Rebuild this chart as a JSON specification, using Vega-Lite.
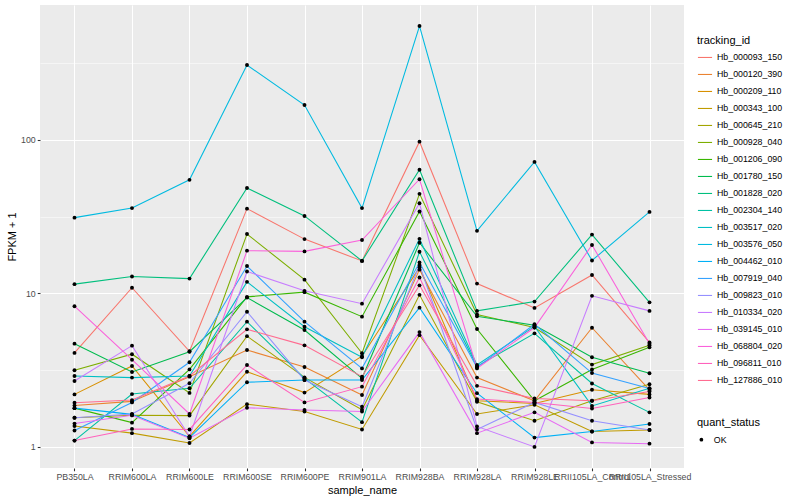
{
  "$schema": "https://vega.github.io/schema/vega-lite/v6.json",
  "autosize": {"type": "none"},
  "padding": {"left": 40, "top": 5, "right": 116, "bottom": 32},
  "width": 644,
  "height": 463,
  "background": "white",
  "datasets": {
    "expr": [
      {"tracking_id":"Hb_000093_150","sample_name":"PB350LA","fpkm":4.1,"quant_status":"OK"},
      {"tracking_id":"Hb_000093_150","sample_name":"RRIM600LA","fpkm":10.9,"quant_status":"OK"},
      {"tracking_id":"Hb_000093_150","sample_name":"RRIM600LE","fpkm":4.2,"quant_status":"OK"},
      {"tracking_id":"Hb_000093_150","sample_name":"RRIM600SE","fpkm":35.7,"quant_status":"OK"},
      {"tracking_id":"Hb_000093_150","sample_name":"RRIM600PE","fpkm":22.6,"quant_status":"OK"},
      {"tracking_id":"Hb_000093_150","sample_name":"RRIM901LA","fpkm":16.3,"quant_status":"OK"},
      {"tracking_id":"Hb_000093_150","sample_name":"RRIM928BA","fpkm":97.5,"quant_status":"OK"},
      {"tracking_id":"Hb_000093_150","sample_name":"RRIM928LA","fpkm":11.6,"quant_status":"OK"},
      {"tracking_id":"Hb_000093_150","sample_name":"RRIM928LE","fpkm":8.05,"quant_status":"OK"},
      {"tracking_id":"Hb_000093_150","sample_name":"RRII105LA_Control","fpkm":13.2,"quant_status":"OK"},
      {"tracking_id":"Hb_000093_150","sample_name":"RRII105LA_Stressed","fpkm":4.8,"quant_status":"OK"},
      {"tracking_id":"Hb_000120_390","sample_name":"PB350LA","fpkm":1.86,"quant_status":"OK"},
      {"tracking_id":"Hb_000120_390","sample_name":"RRIM600LA","fpkm":1.98,"quant_status":"OK"},
      {"tracking_id":"Hb_000120_390","sample_name":"RRIM600LE","fpkm":2.87,"quant_status":"OK"},
      {"tracking_id":"Hb_000120_390","sample_name":"RRIM600SE","fpkm":4.28,"quant_status":"OK"},
      {"tracking_id":"Hb_000120_390","sample_name":"RRIM600PE","fpkm":3.32,"quant_status":"OK"},
      {"tracking_id":"Hb_000120_390","sample_name":"RRIM901LA","fpkm":2.18,"quant_status":"OK"},
      {"tracking_id":"Hb_000120_390","sample_name":"RRIM928BA","fpkm":14.3,"quant_status":"OK"},
      {"tracking_id":"Hb_000120_390","sample_name":"RRIM928LA","fpkm":2.83,"quant_status":"OK"},
      {"tracking_id":"Hb_000120_390","sample_name":"RRIM928LE","fpkm":2.0,"quant_status":"OK"},
      {"tracking_id":"Hb_000120_390","sample_name":"RRII105LA_Control","fpkm":5.98,"quant_status":"OK"},
      {"tracking_id":"Hb_000120_390","sample_name":"RRII105LA_Stressed","fpkm":2.35,"quant_status":"OK"},
      {"tracking_id":"Hb_000209_110","sample_name":"PB350LA","fpkm":2.2,"quant_status":"OK"},
      {"tracking_id":"Hb_000209_110","sample_name":"RRIM600LA","fpkm":3.37,"quant_status":"OK"},
      {"tracking_id":"Hb_000209_110","sample_name":"RRIM600LE","fpkm":1.17,"quant_status":"OK"},
      {"tracking_id":"Hb_000209_110","sample_name":"RRIM600SE","fpkm":3.09,"quant_status":"OK"},
      {"tracking_id":"Hb_000209_110","sample_name":"RRIM600PE","fpkm":2.26,"quant_status":"OK"},
      {"tracking_id":"Hb_000209_110","sample_name":"RRIM901LA","fpkm":3.9,"quant_status":"OK"},
      {"tracking_id":"Hb_000209_110","sample_name":"RRIM928BA","fpkm":14.8,"quant_status":"OK"},
      {"tracking_id":"Hb_000209_110","sample_name":"RRIM928LA","fpkm":2.0,"quant_status":"OK"},
      {"tracking_id":"Hb_000209_110","sample_name":"RRIM928LE","fpkm":1.92,"quant_status":"OK"},
      {"tracking_id":"Hb_000209_110","sample_name":"RRII105LA_Control","fpkm":2.36,"quant_status":"OK"},
      {"tracking_id":"Hb_000209_110","sample_name":"RRII105LA_Stressed","fpkm":2.2,"quant_status":"OK"},
      {"tracking_id":"Hb_000343_100","sample_name":"PB350LA","fpkm":1.37,"quant_status":"OK"},
      {"tracking_id":"Hb_000343_100","sample_name":"RRIM600LA","fpkm":1.23,"quant_status":"OK"},
      {"tracking_id":"Hb_000343_100","sample_name":"RRIM600LE","fpkm":1.06,"quant_status":"OK"},
      {"tracking_id":"Hb_000343_100","sample_name":"RRIM600SE","fpkm":1.9,"quant_status":"OK"},
      {"tracking_id":"Hb_000343_100","sample_name":"RRIM600PE","fpkm":1.7,"quant_status":"OK"},
      {"tracking_id":"Hb_000343_100","sample_name":"RRIM901LA","fpkm":1.3,"quant_status":"OK"},
      {"tracking_id":"Hb_000343_100","sample_name":"RRIM928BA","fpkm":5.35,"quant_status":"OK"},
      {"tracking_id":"Hb_000343_100","sample_name":"RRIM928LA","fpkm":1.64,"quant_status":"OK"},
      {"tracking_id":"Hb_000343_100","sample_name":"RRIM928LE","fpkm":1.88,"quant_status":"OK"},
      {"tracking_id":"Hb_000343_100","sample_name":"RRII105LA_Control","fpkm":1.26,"quant_status":"OK"},
      {"tracking_id":"Hb_000343_100","sample_name":"RRII105LA_Stressed","fpkm":1.29,"quant_status":"OK"},
      {"tracking_id":"Hb_000645_210","sample_name":"PB350LA","fpkm":1.55,"quant_status":"OK"},
      {"tracking_id":"Hb_000645_210","sample_name":"RRIM600LA","fpkm":1.61,"quant_status":"OK"},
      {"tracking_id":"Hb_000645_210","sample_name":"RRIM600LE","fpkm":1.6,"quant_status":"OK"},
      {"tracking_id":"Hb_000645_210","sample_name":"RRIM600SE","fpkm":5.27,"quant_status":"OK"},
      {"tracking_id":"Hb_000645_210","sample_name":"RRIM600PE","fpkm":2.84,"quant_status":"OK"},
      {"tracking_id":"Hb_000645_210","sample_name":"RRIM901LA","fpkm":1.75,"quant_status":"OK"},
      {"tracking_id":"Hb_000645_210","sample_name":"RRIM928BA","fpkm":9.8,"quant_status":"OK"},
      {"tracking_id":"Hb_000645_210","sample_name":"RRIM928LA","fpkm":1.97,"quant_status":"OK"},
      {"tracking_id":"Hb_000645_210","sample_name":"RRIM928LE","fpkm":1.48,"quant_status":"OK"},
      {"tracking_id":"Hb_000645_210","sample_name":"RRII105LA_Control","fpkm":2.0,"quant_status":"OK"},
      {"tracking_id":"Hb_000645_210","sample_name":"RRII105LA_Stressed","fpkm":2.56,"quant_status":"OK"},
      {"tracking_id":"Hb_000928_040","sample_name":"PB350LA","fpkm":3.16,"quant_status":"OK"},
      {"tracking_id":"Hb_000928_040","sample_name":"RRIM600LA","fpkm":4.02,"quant_status":"OK"},
      {"tracking_id":"Hb_000928_040","sample_name":"RRIM600LE","fpkm":2.25,"quant_status":"OK"},
      {"tracking_id":"Hb_000928_040","sample_name":"RRIM600SE","fpkm":24.4,"quant_status":"OK"},
      {"tracking_id":"Hb_000928_040","sample_name":"RRIM600PE","fpkm":12.3,"quant_status":"OK"},
      {"tracking_id":"Hb_000928_040","sample_name":"RRIM901LA","fpkm":4.08,"quant_status":"OK"},
      {"tracking_id":"Hb_000928_040","sample_name":"RRIM928BA","fpkm":44.6,"quant_status":"OK"},
      {"tracking_id":"Hb_000928_040","sample_name":"RRIM928LA","fpkm":7.3,"quant_status":"OK"},
      {"tracking_id":"Hb_000928_040","sample_name":"RRIM928LE","fpkm":6.0,"quant_status":"OK"},
      {"tracking_id":"Hb_000928_040","sample_name":"RRII105LA_Control","fpkm":3.44,"quant_status":"OK"},
      {"tracking_id":"Hb_000928_040","sample_name":"RRII105LA_Stressed","fpkm":4.6,"quant_status":"OK"},
      {"tracking_id":"Hb_001206_090","sample_name":"PB350LA","fpkm":1.79,"quant_status":"OK"},
      {"tracking_id":"Hb_001206_090","sample_name":"RRIM600LA","fpkm":1.44,"quant_status":"OK"},
      {"tracking_id":"Hb_001206_090","sample_name":"RRIM600LE","fpkm":3.2,"quant_status":"OK"},
      {"tracking_id":"Hb_001206_090","sample_name":"RRIM600SE","fpkm":9.5,"quant_status":"OK"},
      {"tracking_id":"Hb_001206_090","sample_name":"RRIM600PE","fpkm":10.2,"quant_status":"OK"},
      {"tracking_id":"Hb_001206_090","sample_name":"RRIM901LA","fpkm":7.06,"quant_status":"OK"},
      {"tracking_id":"Hb_001206_090","sample_name":"RRIM928BA","fpkm":34.2,"quant_status":"OK"},
      {"tracking_id":"Hb_001206_090","sample_name":"RRIM928LA","fpkm":5.87,"quant_status":"OK"},
      {"tracking_id":"Hb_001206_090","sample_name":"RRIM928LE","fpkm":2.0,"quant_status":"OK"},
      {"tracking_id":"Hb_001206_090","sample_name":"RRII105LA_Control","fpkm":3.2,"quant_status":"OK"},
      {"tracking_id":"Hb_001206_090","sample_name":"RRII105LA_Stressed","fpkm":4.46,"quant_status":"OK"},
      {"tracking_id":"Hb_001780_150","sample_name":"PB350LA","fpkm":4.71,"quant_status":"OK"},
      {"tracking_id":"Hb_001780_150","sample_name":"RRIM600LA","fpkm":3.08,"quant_status":"OK"},
      {"tracking_id":"Hb_001780_150","sample_name":"RRIM600LE","fpkm":4.17,"quant_status":"OK"},
      {"tracking_id":"Hb_001780_150","sample_name":"RRIM600SE","fpkm":9.4,"quant_status":"OK"},
      {"tracking_id":"Hb_001780_150","sample_name":"RRIM600PE","fpkm":5.78,"quant_status":"OK"},
      {"tracking_id":"Hb_001780_150","sample_name":"RRIM901LA","fpkm":2.8,"quant_status":"OK"},
      {"tracking_id":"Hb_001780_150","sample_name":"RRIM928BA","fpkm":21.4,"quant_status":"OK"},
      {"tracking_id":"Hb_001780_150","sample_name":"RRIM928LA","fpkm":7.1,"quant_status":"OK"},
      {"tracking_id":"Hb_001780_150","sample_name":"RRIM928LE","fpkm":6.2,"quant_status":"OK"},
      {"tracking_id":"Hb_001780_150","sample_name":"RRII105LA_Control","fpkm":3.84,"quant_status":"OK"},
      {"tracking_id":"Hb_001780_150","sample_name":"RRII105LA_Stressed","fpkm":3.02,"quant_status":"OK"},
      {"tracking_id":"Hb_001828_020","sample_name":"PB350LA","fpkm":11.5,"quant_status":"OK"},
      {"tracking_id":"Hb_001828_020","sample_name":"RRIM600LA","fpkm":12.9,"quant_status":"OK"},
      {"tracking_id":"Hb_001828_020","sample_name":"RRIM600LE","fpkm":12.5,"quant_status":"OK"},
      {"tracking_id":"Hb_001828_020","sample_name":"RRIM600SE","fpkm":48.7,"quant_status":"OK"},
      {"tracking_id":"Hb_001828_020","sample_name":"RRIM600PE","fpkm":32,"quant_status":"OK"},
      {"tracking_id":"Hb_001828_020","sample_name":"RRIM901LA","fpkm":16.3,"quant_status":"OK"},
      {"tracking_id":"Hb_001828_020","sample_name":"RRIM928BA","fpkm":64,"quant_status":"OK"},
      {"tracking_id":"Hb_001828_020","sample_name":"RRIM928LA","fpkm":7.7,"quant_status":"OK"},
      {"tracking_id":"Hb_001828_020","sample_name":"RRIM928LE","fpkm":8.85,"quant_status":"OK"},
      {"tracking_id":"Hb_001828_020","sample_name":"RRII105LA_Control","fpkm":24.2,"quant_status":"OK"},
      {"tracking_id":"Hb_001828_020","sample_name":"RRII105LA_Stressed","fpkm":8.75,"quant_status":"OK"},
      {"tracking_id":"Hb_002304_140","sample_name":"PB350LA","fpkm":1.1,"quant_status":"OK"},
      {"tracking_id":"Hb_002304_140","sample_name":"RRIM600LA","fpkm":2.21,"quant_status":"OK"},
      {"tracking_id":"Hb_002304_140","sample_name":"RRIM600LE","fpkm":2.41,"quant_status":"OK"},
      {"tracking_id":"Hb_002304_140","sample_name":"RRIM600SE","fpkm":6.55,"quant_status":"OK"},
      {"tracking_id":"Hb_002304_140","sample_name":"RRIM600PE","fpkm":2.8,"quant_status":"OK"},
      {"tracking_id":"Hb_002304_140","sample_name":"RRIM901LA","fpkm":1.45,"quant_status":"OK"},
      {"tracking_id":"Hb_002304_140","sample_name":"RRIM928BA","fpkm":18.7,"quant_status":"OK"},
      {"tracking_id":"Hb_002304_140","sample_name":"RRIM928LA","fpkm":3.35,"quant_status":"OK"},
      {"tracking_id":"Hb_002304_140","sample_name":"RRIM928LE","fpkm":5.5,"quant_status":"OK"},
      {"tracking_id":"Hb_002304_140","sample_name":"RRII105LA_Control","fpkm":2.59,"quant_status":"OK"},
      {"tracking_id":"Hb_002304_140","sample_name":"RRII105LA_Stressed","fpkm":1.68,"quant_status":"OK"},
      {"tracking_id":"Hb_003517_020","sample_name":"PB350LA","fpkm":2.9,"quant_status":"OK"},
      {"tracking_id":"Hb_003517_020","sample_name":"RRIM600LA","fpkm":2.83,"quant_status":"OK"},
      {"tracking_id":"Hb_003517_020","sample_name":"RRIM600LE","fpkm":2.9,"quant_status":"OK"},
      {"tracking_id":"Hb_003517_020","sample_name":"RRIM600SE","fpkm":11.9,"quant_status":"OK"},
      {"tracking_id":"Hb_003517_020","sample_name":"RRIM600PE","fpkm":6.07,"quant_status":"OK"},
      {"tracking_id":"Hb_003517_020","sample_name":"RRIM901LA","fpkm":3.84,"quant_status":"OK"},
      {"tracking_id":"Hb_003517_020","sample_name":"RRIM928BA","fpkm":22.7,"quant_status":"OK"},
      {"tracking_id":"Hb_003517_020","sample_name":"RRIM928LA","fpkm":3.42,"quant_status":"OK"},
      {"tracking_id":"Hb_003517_020","sample_name":"RRIM928LE","fpkm":6.1,"quant_status":"OK"},
      {"tracking_id":"Hb_003517_020","sample_name":"RRII105LA_Control","fpkm":1.85,"quant_status":"OK"},
      {"tracking_id":"Hb_003517_020","sample_name":"RRII105LA_Stressed","fpkm":2.41,"quant_status":"OK"},
      {"tracking_id":"Hb_003576_050","sample_name":"PB350LA","fpkm":31.2,"quant_status":"OK"},
      {"tracking_id":"Hb_003576_050","sample_name":"RRIM600LA","fpkm":36,"quant_status":"OK"},
      {"tracking_id":"Hb_003576_050","sample_name":"RRIM600LE","fpkm":55,"quant_status":"OK"},
      {"tracking_id":"Hb_003576_050","sample_name":"RRIM600SE","fpkm":308,"quant_status":"OK"},
      {"tracking_id":"Hb_003576_050","sample_name":"RRIM600PE","fpkm":169,"quant_status":"OK"},
      {"tracking_id":"Hb_003576_050","sample_name":"RRIM901LA","fpkm":36,"quant_status":"OK"},
      {"tracking_id":"Hb_003576_050","sample_name":"RRIM928BA","fpkm":553,"quant_status":"OK"},
      {"tracking_id":"Hb_003576_050","sample_name":"RRIM928LA","fpkm":25.6,"quant_status":"OK"},
      {"tracking_id":"Hb_003576_050","sample_name":"RRIM928LE","fpkm":72,"quant_status":"OK"},
      {"tracking_id":"Hb_003576_050","sample_name":"RRII105LA_Control","fpkm":16.4,"quant_status":"OK"},
      {"tracking_id":"Hb_003576_050","sample_name":"RRII105LA_Stressed","fpkm":34,"quant_status":"OK"},
      {"tracking_id":"Hb_004462_010","sample_name":"PB350LA","fpkm":1.79,"quant_status":"OK"},
      {"tracking_id":"Hb_004462_010","sample_name":"RRIM600LA","fpkm":1.63,"quant_status":"OK"},
      {"tracking_id":"Hb_004462_010","sample_name":"RRIM600LE","fpkm":1.15,"quant_status":"OK"},
      {"tracking_id":"Hb_004462_010","sample_name":"RRIM600SE","fpkm":2.64,"quant_status":"OK"},
      {"tracking_id":"Hb_004462_010","sample_name":"RRIM600PE","fpkm":2.73,"quant_status":"OK"},
      {"tracking_id":"Hb_004462_010","sample_name":"RRIM901LA","fpkm":2.73,"quant_status":"OK"},
      {"tracking_id":"Hb_004462_010","sample_name":"RRIM928BA","fpkm":8.08,"quant_status":"OK"},
      {"tracking_id":"Hb_004462_010","sample_name":"RRIM928LA","fpkm":2.24,"quant_status":"OK"},
      {"tracking_id":"Hb_004462_010","sample_name":"RRIM928LE","fpkm":1.15,"quant_status":"OK"},
      {"tracking_id":"Hb_004462_010","sample_name":"RRII105LA_Control","fpkm":1.26,"quant_status":"OK"},
      {"tracking_id":"Hb_004462_010","sample_name":"RRII105LA_Stressed","fpkm":1.41,"quant_status":"OK"},
      {"tracking_id":"Hb_007919_040","sample_name":"PB350LA","fpkm":1.28,"quant_status":"OK"},
      {"tracking_id":"Hb_007919_040","sample_name":"RRIM600LA","fpkm":1.95,"quant_status":"OK"},
      {"tracking_id":"Hb_007919_040","sample_name":"RRIM600LE","fpkm":3.56,"quant_status":"OK"},
      {"tracking_id":"Hb_007919_040","sample_name":"RRIM600SE","fpkm":15.1,"quant_status":"OK"},
      {"tracking_id":"Hb_007919_040","sample_name":"RRIM600PE","fpkm":6.55,"quant_status":"OK"},
      {"tracking_id":"Hb_007919_040","sample_name":"RRIM901LA","fpkm":3.25,"quant_status":"OK"},
      {"tracking_id":"Hb_007919_040","sample_name":"RRIM928BA","fpkm":15.9,"quant_status":"OK"},
      {"tracking_id":"Hb_007919_040","sample_name":"RRIM928LA","fpkm":3.3,"quant_status":"OK"},
      {"tracking_id":"Hb_007919_040","sample_name":"RRIM928LE","fpkm":6.3,"quant_status":"OK"},
      {"tracking_id":"Hb_007919_040","sample_name":"RRII105LA_Control","fpkm":3.03,"quant_status":"OK"},
      {"tracking_id":"Hb_007919_040","sample_name":"RRII105LA_Stressed","fpkm":2.4,"quant_status":"OK"},
      {"tracking_id":"Hb_009823_010","sample_name":"PB350LA","fpkm":1.55,"quant_status":"OK"},
      {"tracking_id":"Hb_009823_010","sample_name":"RRIM600LA","fpkm":1.64,"quant_status":"OK"},
      {"tracking_id":"Hb_009823_010","sample_name":"RRIM600LE","fpkm":2.6,"quant_status":"OK"},
      {"tracking_id":"Hb_009823_010","sample_name":"RRIM600SE","fpkm":7.6,"quant_status":"OK"},
      {"tracking_id":"Hb_009823_010","sample_name":"RRIM600PE","fpkm":2.73,"quant_status":"OK"},
      {"tracking_id":"Hb_009823_010","sample_name":"RRIM901LA","fpkm":1.83,"quant_status":"OK"},
      {"tracking_id":"Hb_009823_010","sample_name":"RRIM928BA","fpkm":15.3,"quant_status":"OK"},
      {"tracking_id":"Hb_009823_010","sample_name":"RRIM928LA","fpkm":1.3,"quant_status":"OK"},
      {"tracking_id":"Hb_009823_010","sample_name":"RRIM928LE","fpkm":1.95,"quant_status":"OK"},
      {"tracking_id":"Hb_009823_010","sample_name":"RRII105LA_Control","fpkm":1.48,"quant_status":"OK"},
      {"tracking_id":"Hb_009823_010","sample_name":"RRII105LA_Stressed","fpkm":1.29,"quant_status":"OK"},
      {"tracking_id":"Hb_010334_020","sample_name":"PB350LA","fpkm":2.69,"quant_status":"OK"},
      {"tracking_id":"Hb_010334_020","sample_name":"RRIM600LA","fpkm":4.57,"quant_status":"OK"},
      {"tracking_id":"Hb_010334_020","sample_name":"RRIM600LE","fpkm":1.17,"quant_status":"OK"},
      {"tracking_id":"Hb_010334_020","sample_name":"RRIM600SE","fpkm":13.9,"quant_status":"OK"},
      {"tracking_id":"Hb_010334_020","sample_name":"RRIM600PE","fpkm":10.4,"quant_status":"OK"},
      {"tracking_id":"Hb_010334_020","sample_name":"RRIM901LA","fpkm":8.58,"quant_status":"OK"},
      {"tracking_id":"Hb_010334_020","sample_name":"RRIM928BA","fpkm":38.7,"quant_status":"OK"},
      {"tracking_id":"Hb_010334_020","sample_name":"RRIM928LA","fpkm":1.36,"quant_status":"OK"},
      {"tracking_id":"Hb_010334_020","sample_name":"RRIM928LE","fpkm":1.0,"quant_status":"OK"},
      {"tracking_id":"Hb_010334_020","sample_name":"RRII105LA_Control","fpkm":9.65,"quant_status":"OK"},
      {"tracking_id":"Hb_010334_020","sample_name":"RRII105LA_Stressed","fpkm":7.7,"quant_status":"OK"},
      {"tracking_id":"Hb_039145_010","sample_name":"PB350LA","fpkm":1.42,"quant_status":"OK"},
      {"tracking_id":"Hb_039145_010","sample_name":"RRIM600LA","fpkm":1.61,"quant_status":"OK"},
      {"tracking_id":"Hb_039145_010","sample_name":"RRIM600LE","fpkm":1.14,"quant_status":"OK"},
      {"tracking_id":"Hb_039145_010","sample_name":"RRIM600SE","fpkm":1.8,"quant_status":"OK"},
      {"tracking_id":"Hb_039145_010","sample_name":"RRIM600PE","fpkm":1.74,"quant_status":"OK"},
      {"tracking_id":"Hb_039145_010","sample_name":"RRIM901LA","fpkm":1.7,"quant_status":"OK"},
      {"tracking_id":"Hb_039145_010","sample_name":"RRIM928BA","fpkm":5.6,"quant_status":"OK"},
      {"tracking_id":"Hb_039145_010","sample_name":"RRIM928LA","fpkm":1.23,"quant_status":"OK"},
      {"tracking_id":"Hb_039145_010","sample_name":"RRIM928LE","fpkm":1.68,"quant_status":"OK"},
      {"tracking_id":"Hb_039145_010","sample_name":"RRII105LA_Control","fpkm":1.07,"quant_status":"OK"},
      {"tracking_id":"Hb_039145_010","sample_name":"RRII105LA_Stressed","fpkm":1.05,"quant_status":"OK"},
      {"tracking_id":"Hb_068804_020","sample_name":"PB350LA","fpkm":8.26,"quant_status":"OK"},
      {"tracking_id":"Hb_068804_020","sample_name":"RRIM600LA","fpkm":3.7,"quant_status":"OK"},
      {"tracking_id":"Hb_068804_020","sample_name":"RRIM600LE","fpkm":1.64,"quant_status":"OK"},
      {"tracking_id":"Hb_068804_020","sample_name":"RRIM600SE","fpkm":19,"quant_status":"OK"},
      {"tracking_id":"Hb_068804_020","sample_name":"RRIM600PE","fpkm":18.8,"quant_status":"OK"},
      {"tracking_id":"Hb_068804_020","sample_name":"RRIM901LA","fpkm":22.3,"quant_status":"OK"},
      {"tracking_id":"Hb_068804_020","sample_name":"RRIM928BA","fpkm":55.5,"quant_status":"OK"},
      {"tracking_id":"Hb_068804_020","sample_name":"RRIM928LA","fpkm":3.25,"quant_status":"OK"},
      {"tracking_id":"Hb_068804_020","sample_name":"RRIM928LE","fpkm":6.0,"quant_status":"OK"},
      {"tracking_id":"Hb_068804_020","sample_name":"RRII105LA_Control","fpkm":20.7,"quant_status":"OK"},
      {"tracking_id":"Hb_068804_020","sample_name":"RRII105LA_Stressed","fpkm":4.7,"quant_status":"OK"},
      {"tracking_id":"Hb_096811_010","sample_name":"PB350LA","fpkm":1.1,"quant_status":"OK"},
      {"tracking_id":"Hb_096811_010","sample_name":"RRIM600LA","fpkm":1.31,"quant_status":"OK"},
      {"tracking_id":"Hb_096811_010","sample_name":"RRIM600LE","fpkm":1.3,"quant_status":"OK"},
      {"tracking_id":"Hb_096811_010","sample_name":"RRIM600SE","fpkm":3.42,"quant_status":"OK"},
      {"tracking_id":"Hb_096811_010","sample_name":"RRIM600PE","fpkm":1.95,"quant_status":"OK"},
      {"tracking_id":"Hb_096811_010","sample_name":"RRIM901LA","fpkm":2.47,"quant_status":"OK"},
      {"tracking_id":"Hb_096811_010","sample_name":"RRIM928BA","fpkm":12.7,"quant_status":"OK"},
      {"tracking_id":"Hb_096811_010","sample_name":"RRIM928LA","fpkm":2.05,"quant_status":"OK"},
      {"tracking_id":"Hb_096811_010","sample_name":"RRIM928LE","fpkm":1.95,"quant_status":"OK"},
      {"tracking_id":"Hb_096811_010","sample_name":"RRII105LA_Control","fpkm":1.78,"quant_status":"OK"},
      {"tracking_id":"Hb_096811_010","sample_name":"RRII105LA_Stressed","fpkm":2.1,"quant_status":"OK"},
      {"tracking_id":"Hb_127886_010","sample_name":"PB350LA","fpkm":1.94,"quant_status":"OK"},
      {"tracking_id":"Hb_127886_010","sample_name":"RRIM600LA","fpkm":2.02,"quant_status":"OK"},
      {"tracking_id":"Hb_127886_010","sample_name":"RRIM600LE","fpkm":2.9,"quant_status":"OK"},
      {"tracking_id":"Hb_127886_010","sample_name":"RRIM600SE","fpkm":5.84,"quant_status":"OK"},
      {"tracking_id":"Hb_127886_010","sample_name":"RRIM600PE","fpkm":4.59,"quant_status":"OK"},
      {"tracking_id":"Hb_127886_010","sample_name":"RRIM901LA","fpkm":2.87,"quant_status":"OK"},
      {"tracking_id":"Hb_127886_010","sample_name":"RRIM928BA","fpkm":11.3,"quant_status":"OK"},
      {"tracking_id":"Hb_127886_010","sample_name":"RRIM928LA","fpkm":2.5,"quant_status":"OK"},
      {"tracking_id":"Hb_127886_010","sample_name":"RRIM928LE","fpkm":2.07,"quant_status":"OK"},
      {"tracking_id":"Hb_127886_010","sample_name":"RRII105LA_Control","fpkm":2.0,"quant_status":"OK"},
      {"tracking_id":"Hb_127886_010","sample_name":"RRII105LA_Stressed","fpkm":2.3,"quant_status":"OK"}
    ]
  },
  "data": {"name": "expr"},
  "encoding": {
    "x": {
      "field": "sample_name",
      "type": "nominal",
      "scale": {"type": "point", "padding": 0.6, "domain": ["PB350LA","RRIM600LA","RRIM600LE","RRIM600SE","RRIM600PE","RRIM901LA","RRIM928BA","RRIM928LA","RRIM928LE","RRII105LA_Control","RRII105LA_Stressed"]},
      "axis": {"title": "sample_name", "labelAngle": 0, "labelOverlap": false, "grid": true, "gridWidth": 1.07, "labelPadding": 1.5, "titlePadding": 3}
    },
    "y": {
      "field": "fpkm",
      "type": "quantitative",
      "scale": {"type": "log", "domain": [0.729, 758], "nice": false, "zero": false},
      "axis": {
        "title": "FPKM + 1",
        "values": [1, 3.16228, 10, 31.6228, 100, 316.228],
        "format": "d",
        "labelExpr": "(datum.value == 1 || datum.value == 10 || datum.value == 100) ? datum.label : ''",
        "grid": true,
        "gridWidth": {"condition": {"test": "datum.value == 1 || datum.value == 10 || datum.value == 100", "value": 1.07}, "value": 0.53},
        "tickOpacity": {"condition": {"test": "datum.value == 1 || datum.value == 10 || datum.value == 100", "value": 1}, "value": 0},
        "labelPadding": 2,
        "titlePadding": 3
      }
    }
  },
  "layer": [
    {
      "mark": {"type": "line", "strokeWidth": 1.07},
      "encoding": {
        "color": {
          "field": "tracking_id",
          "type": "nominal",
          "scale": {
            "domain": ["Hb_000093_150","Hb_000120_390","Hb_000209_110","Hb_000343_100","Hb_000645_210","Hb_000928_040","Hb_001206_090","Hb_001780_150","Hb_001828_020","Hb_002304_140","Hb_003517_020","Hb_003576_050","Hb_004462_010","Hb_007919_040","Hb_009823_010","Hb_010334_020","Hb_039145_010","Hb_068804_020","Hb_096811_010","Hb_127886_010"],
            "range": ["#F8766D","#EA8331","#D89000","#C09B00","#A3A500","#7CAE00","#39B600","#00BB4E","#00BF7D","#00C1A3","#00BFC4","#00BAE0","#00B0F6","#35A2FF","#9590FF","#C77CFF","#E76BF3","#FA62DB","#FF62BC","#FF6C91"]
          },
          "legend": {
            "title": "tracking_id",
            "orient": "none",
            "legendX": 657,
            "legendY": 30,
            "symbolType": "stroke",
            "symbolSize": 200,
            "symbolStrokeWidth": 1.07,
            "clipHeight": 16.9,
            "rowPadding": 0,
            "labelOffset": 4,
            "titlePadding": 3
          }
        }
      }
    },
    {
      "mark": {"type": "point", "filled": true, "color": "black", "opacity": 1, "size": 15},
      "encoding": {
        "shape": {
          "field": "quant_status",
          "type": "nominal",
          "scale": {"domain": ["OK"], "range": ["circle"]},
          "legend": {
            "title": "quant_status",
            "orient": "none",
            "legendX": 657,
            "legendY": 412,
            "symbolFillColor": "black",
            "symbolStrokeColor": "black",
            "symbolSize": 14,
            "clipHeight": 17.28,
            "rowPadding": 0,
            "labelOffset": 8,
            "titlePadding": 3
          }
        }
      }
    }
  ],
  "config": {
    "font": "Liberation Sans",
    "view": {"fill": "#EBEBEB", "stroke": null},
    "axis": {
      "domain": false,
      "gridColor": "#FFFFFF",
      "labelColor": "#4D4D4D",
      "labelFontSize": 8.8,
      "labelFont": "Liberation Sans",
      "tickColor": "#333333",
      "tickSize": 2.75,
      "tickWidth": 1.07,
      "titleFont": "Liberation Sans",
      "titleFontSize": 11,
      "titleFontWeight": "normal",
      "titleColor": "#000000"
    },
    "legend": {
      "titleFont": "Liberation Sans",
      "titleFontSize": 11,
      "titleFontWeight": "normal",
      "titleColor": "#000000",
      "labelFont": "Liberation Sans",
      "labelFontSize": 8.8,
      "labelColor": "#000000"
    }
  }
}
